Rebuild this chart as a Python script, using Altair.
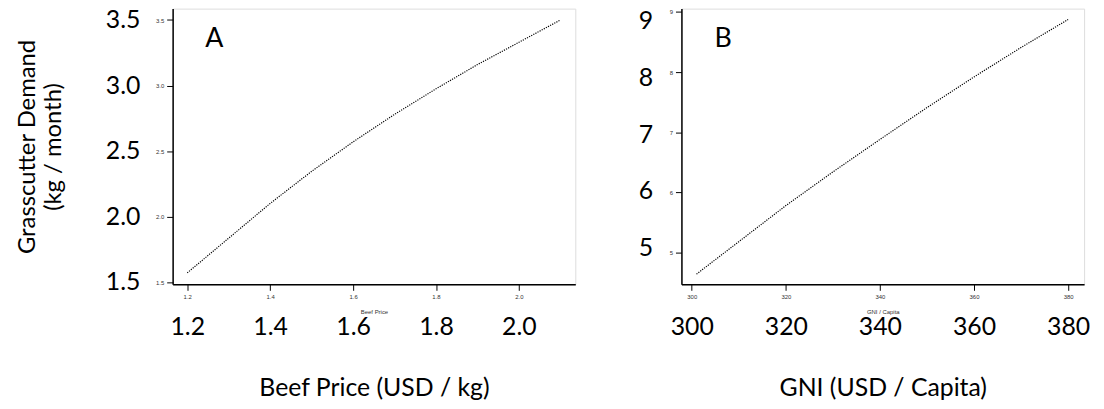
import altair as alt
import pandas as pd

# Panel A: beef price vs grasscutter demand
beef_price = [1.2, 1.3, 1.4, 1.5, 1.6, 1.7, 1.8, 1.9, 2.0, 2.1]
demand_a = [1.57, 1.835, 2.10, 2.345, 2.57, 2.78, 2.975, 3.16, 3.33, 3.50]

# Panel B: GNI per capita vs grasscutter demand
gni = [301, 310, 320, 330, 340, 350, 360, 370, 380]
demand_b = [4.64, 5.18, 5.78, 6.34, 6.88, 7.41, 7.92, 8.41, 8.875]

ticks_a_x = [1.2, 1.4, 1.6, 1.8, 2.0]
ticks_a_y = [1.5, 2.0, 2.5, 3.0, 3.5]
ticks_b_x = [300, 320, 340, 360, 380]
ticks_b_y = [5, 6, 7, 8, 9]

dfA = pd.DataFrame({"price": beef_price, "demand": demand_a})
dfB = pd.DataFrame({"gni": gni, "demand": demand_b})

W, H = 406, 278
BIG = "Lato"
SMALL = "Liberation Sans"


def small_axis(values, fmt, title=None, orient="bottom"):
    kw = dict(
        values=values, format=fmt, orient=orient, grid=False,
        domain=True, domainColor="black", domainWidth=1.5,
        ticks=True, tickSize=6, tickColor="black", tickWidth=1,
        labelFont=SMALL, labelFontSize=6, labelColor="#333", labelPadding=3,
    )
    if title is not None:
        kw.update(title=title, titleFont=SMALL, titleFontSize=6,
                  titleFontWeight="normal", titleColor="#333", titlePadding=9)
    else:
        kw.update(title="")
    return alt.Axis(**kw)


def big_axis(values, fmt, title="", orient="bottom", pad=31, title_pad=30, title_size=21):
    kw = dict(
        values=values, format=fmt, orient=orient, grid=False,
        domain=False, ticks=False,
        labelFont=BIG, labelFontSize=25, labelColor="black", labelPadding=pad,
        title=title, titleFont=BIG, titleFontSize=title_size, titleFontWeight="normal",
        titleColor="black", titlePadding=title_pad,
    )
    return alt.Axis(**kw)


def letter(t):
    return alt.Chart(pd.DataFrame({"t": [t]})).mark_text(
        font=BIG, fontSize=27, color="black", align="center", baseline="middle"
    ).encode(text="t:N", x=alt.value(42), y=alt.value(31))


# ---- Panel A
xa = alt.Scale(domain=[1.1648, 2.136], nice=False, zero=False)
ya = alt.Scale(domain=[1.4826, 3.587], nice=False, zero=False)

lineA = alt.Chart(dfA).mark_line(color="black", strokeWidth=1.2, strokeDash=[1.2, 1.2]).encode(
    x=alt.X("price:Q", scale=xa, axis=small_axis(ticks_a_x, ".1f", "Beef Price")),
    y=alt.Y("demand:Q", scale=ya, axis=small_axis(ticks_a_y, ".1f", None, "left")),
)
bigA = alt.Chart(dfA).mark_line(opacity=0).encode(
    x=alt.X("price:Q", scale=xa,
            axis=big_axis(ticks_a_x, ".1f", "Beef Price (USD / kg)", pad=31, title_pad=36,
                          title_size=25)),
    y=alt.Y("demand:Q", scale=ya,
            axis=big_axis(ticks_a_y, ".1f", ["Grasscutter Demand", "(kg / month)"],
                          orient="left", pad=33, title_pad=40, title_size=24)),
)
panelA = alt.layer(lineA, bigA, letter("A")).resolve_axis(
    x="independent", y="independent"
).properties(width=W, height=H)

# ---- Panel B
xb = alt.Scale(domain=[297.8, 383.4], nice=False, zero=False)
yb = alt.Scale(domain=[4.47, 9.056], nice=False, zero=False)
yb_big = alt.Scale(domain=[4.342, 9.219], nice=False, zero=False)

lineB = alt.Chart(dfB).mark_line(color="black", strokeWidth=1.2, strokeDash=[1.2, 1.2]).encode(
    x=alt.X("gni:Q", scale=xb, axis=small_axis(ticks_b_x, "d", "GNI / Capita")),
    y=alt.Y("demand:Q", scale=yb, axis=small_axis(ticks_b_y, "d", None, "left")),
)
bigB = alt.Chart(dfB).mark_line(opacity=0).encode(
    x=alt.X("gni:Q", scale=xb,
            axis=big_axis(ticks_b_x, "d", "GNI (USD / Capita)", pad=31, title_pad=36,
                          title_size=25)),
    y=alt.Y("demand:Q", scale=yb_big,
            axis=big_axis(ticks_b_y, "d", "", orient="left", pad=29)),
)
panelB = alt.layer(lineB, bigB, letter("B")).resolve_axis(
    x="independent", y="independent"
).resolve_scale(y="independent").properties(width=W, height=H)

chart = alt.hconcat(panelA, panelB, spacing=61).properties(
    padding={"left": 7, "top": -3, "right": 5, "bottom": 0}
).configure_view(
    stroke="#666", strokeWidth=1.5
).configure(background="white")

chart.save("out.html", embed_options={"renderer": "svg", "actions": False})
